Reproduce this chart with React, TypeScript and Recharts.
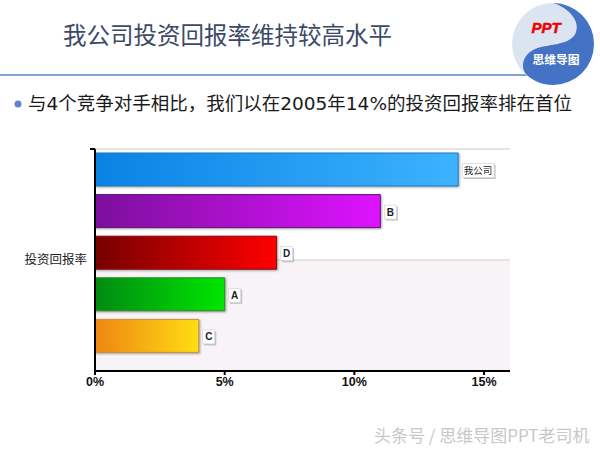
import React from 'react';
import { Bar, BarChart, CartesianGrid, Cell, LabelList, XAxis, YAxis } from 'recharts';

const companies = ['我公司', 'B', 'D', 'A', 'C'];
const returns = [14, 11, 7, 5, 4];
const xTicks = [0, 5, 10, 15];
const gradientStart = ['#0a82e4', '#7c0f9c', '#760000', '#008a12', '#ee8612'];
const gradientEnd = ['#3db2ff', '#de12ff', '#ff0000', '#00e600', '#ffdd12'];
const barEdge = ['#1c7cc4', '#5c1478', '#8a0808', '#2b8a2b', '#c8923c'];

const rows = companies.map((name, i) => ({ name, value: returns[i] }));

const cjk = '"Noto Sans CJK SC", sans-serif';
const latin = '"Liberation Sans", Arial, sans-serif';

function BarTag(props: any) {
  const { x, y, width, height, value } = props;
  const text = String(value);
  const wide = text.length > 1;
  const w = wide ? 32 : 12;
  const h = 14;
  const left = x + width + 4;
  const top = y + height / 2 - h / 2 + 1;
  return (
    <g>
      <rect x={left + 1.5} y={top + 1.5} width={w} height={h} fill="#a8a8a8" opacity={0.7} />
      <rect x={left} y={top} width={w} height={h} fill="#fff" stroke="#d8d8d8" strokeWidth={0.75} />
      <text
        x={left + w / 2}
        y={top + h / 2 + 3.5}
        textAnchor="middle"
        fontSize={wide ? 9.5 : 10}
        fontWeight={wide ? 400 : 700}
        fontFamily={wide ? cjk : latin}
        fill="#222"
      >
        {text}
      </text>
    </g>
  );
}

// no category labels here, only one stub at the top of the axis
function TopTick(props: any) {
  const { x, y, index, payload } = props;
  if (index !== 0) return <g />;
  const top = y - (payload?.offset ?? 0);
  return <line x1={x + 3} y1={top} x2={x + 8} y2={top} stroke="#000" strokeWidth={2} />;
}

function Header() {
  return (
    <svg width={600} height={120} style={{ position: 'absolute', left: 0, top: 0 }}>
      <line x1={0} y1={75} x2={530} y2={75} stroke="#5b85c8" strokeWidth={1.5} />
      <circle cx={553} cy={44} r={41} fill="#dbe5f2" />
      <path
        d="M553 3C570 8 580 22 576 32C572 46 545 44 535 49C522 55 520 68 527 75C533 81 543 85 553 85A41 41 0 0 0 553 3Z"
        fill="#4472c4"
      />
      <text x={546} y={33} textAnchor="middle" fontSize={15} fontWeight={700} fontStyle="italic" fontFamily={latin} fill="#ee0000" stroke="#ee0000" strokeWidth={0.5}>
        PPT
      </text>
      <text x={556} y={64} textAnchor="middle" fontSize={11.8} fontWeight={700} fontFamily={cjk} fill="#fff">
        思维导图
      </text>
      <text x={63} y={44} fontSize={23.5} fontFamily={cjk} fill="#3c4a68">
        我公司投资回报率维持较高水平
      </text>
      <circle cx={18} cy={104} r={3.5} fill="#5b85c8" />
      <text x={28} y={110} fontSize={18.5} fontFamily={`"DejaVu Sans", ${cjk}`} fill="#1a1a1a">
        与4个竞争对手相比，我们以在2005年14%的投资回报率排在首位
      </text>
    </svg>
  );
}

export default function App() {
  return (
    <div style={{ position: 'absolute', left: 0, top: 0, width: 600, height: 450, background: '#fff', overflow: 'hidden' }}>
      <Header />
      <div style={{ position: 'absolute', left: 0, top: 0 }}>
        <BarChart
          width={600}
          height={450}
          data={rows}
          layout="vertical"
          margin={{ top: 149, right: 90, bottom: 49, left: 0 }}
          barCategoryGap={0}
        >
          <defs>
            {companies.map((name, i) => (
              <linearGradient key={name} id={`bar-${i}`} x1="0" y1="0" x2="1" y2="0">
                <stop offset="0%" stopColor={gradientStart[i]} />
                <stop offset="100%" stopColor={gradientEnd[i]} />
              </linearGradient>
            ))}
          </defs>
          <CartesianGrid
            vertical={false}
            stroke="#dedcdc"
            strokeWidth={1.5}
            horizontalFill={['#ffffff', '#f7f3f7']}
            horizontalCoordinatesGenerator={({ offset }: any) => [offset.top, offset.top + offset.height / 2, offset.top + offset.height]}
          />
          <XAxis
            type="number"
            domain={[0, 16]}
            ticks={xTicks}
            height={30}
            tickFormatter={(v: number) => `${v}%`}
            axisLine={{ stroke: '#000', strokeWidth: 2 }}
            tickLine={{ stroke: '#000', strokeWidth: 2 }}
            tickSize={4}
            tick={{ fill: '#111', fontSize: 12.5, fontWeight: 700, fontFamily: latin }}
          />
          <YAxis
            type="category"
            dataKey="name"
            width={95}
            interval={0}
            tick={TopTick}
            padding={{ top: 0, bottom: 14 }}
            axisLine={{ stroke: '#000', strokeWidth: 2 }}
            tickLine={false}
            label={{ value: '投资回报率', position: 'insideRight', offset: 8, fontSize: 12.5, fontFamily: cjk, fill: '#222' }}
          />
          <Bar dataKey="value" barSize={33} isAnimationActive={false}>
            {rows.map((row, i) => (
              <Cell
                key={row.name}
                fill={`url(#bar-${i})`}
                stroke={barEdge[i]}
                strokeWidth={1}
                style={{ filter: 'drop-shadow(1px 1.5px 1px rgba(0,0,0,0.35))' }}
              />
            ))}
            <LabelList dataKey="name" content={BarTag} />
          </Bar>
        </BarChart>
      </div>
      <div
        style={{
          position: 'absolute',
          left: 374,
          top: 425,
          fontSize: 17,
          lineHeight: '20px',
          fontFamily: cjk,
          color: '#c8c8c8',
          whiteSpace: 'nowrap',
        }}
      >
        头条号 / 思维导图PPT老司机
      </div>
    </div>
  );
}
